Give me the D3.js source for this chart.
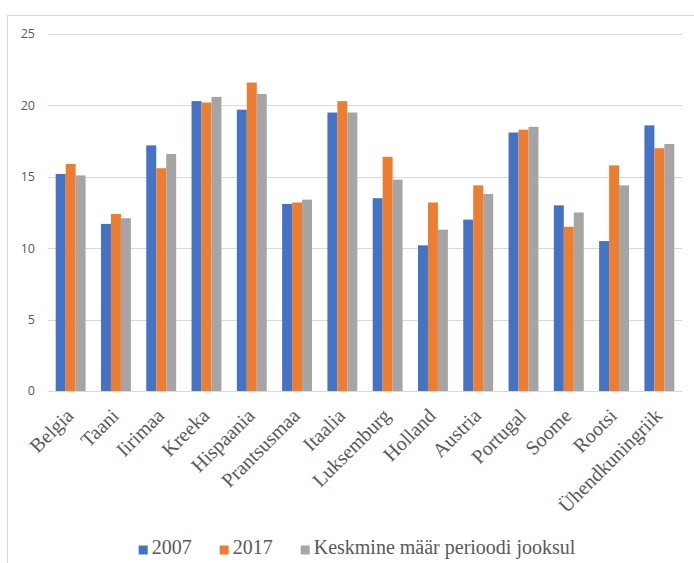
<!DOCTYPE html>
<html>
<head>
<meta charset="utf-8">
<script src="https://cdn.jsdelivr.net/npm/d3@7"></script>
<style>
  body { margin: 0; background: #fff; }
  svg { display: block; }
</style>
</head>
<body>
<div id="chart"></div>
<script>
const WIDTH_PX = 694;
const HEIGHT_PX = 563;

const countries = ['Belgia', 'Taani', 'Iirimaa', 'Kreeka', 'Hispaania', 'Prantsusmaa',
  'Itaalia', 'Luksemburg', 'Holland', 'Austria', 'Portugal', 'Soome', 'Rootsi',
  'Ühendkuningriik'];
const seriesNames = ['2007', '2017', 'Keskmine määr perioodi jooksul'];
const values2007 = [15.2, 11.7, 17.2, 20.3, 19.7, 13.1, 19.5, 13.5, 10.2, 12.0, 18.1, 13.0, 10.5, 18.6];
const values2017 = [15.9, 12.4, 15.6, 20.2, 21.6, 13.2, 20.3, 16.4, 13.2, 14.4, 18.3, 11.5, 15.8, 17.0];
const valuesAvg = [15.1, 12.1, 16.6, 20.6, 20.8, 13.4, 19.5, 14.8, 11.3, 13.8, 18.5, 12.5, 14.4, 17.3];
const yTicks = [0, 5, 10, 15, 20, 25];

const colors = ['#4472C4', '#ED7D31', '#A5A5A5'];
const allSeries = [values2007, values2017, valuesAvg];

let svg = d3.select('#chart').append('svg')
    .attr('width', WIDTH_PX)
    .attr('height', HEIGHT_PX);

// chart frame, runs off the right and bottom edges like the original
svg.append('rect')
    .attr('x', 7.5).attr('y', 15.5)
    .attr('width', 720).attr('height', 600)
    .attr('fill', 'none')
    .attr('stroke', '#d9d9d9');

let x0 = d3.scaleBand()
    .domain(countries)
    .range([48, 682])
    .paddingInner(0.34)
    .paddingOuter(0.17);

let x1 = d3.scaleBand()
    .domain(seriesNames)
    .range([0, x0.bandwidth()]);

let y = d3.scaleLinear()
    .domain([0, 25])
    .range([391, 34]);

// gridlines
svg.append('g')
    .selectAll('line')
    .data(yTicks)
    .join('line')
    .attr('x1', 48).attr('x2', 682)
    .attr('y1', d => Math.round(y(d)) + 0.5)
    .attr('y2', d => Math.round(y(d)) + 0.5)
    .attr('stroke', '#d9d9d9')
    .attr('stroke-width', 1);

// y labels
svg.append('g')
    .selectAll('text')
    .data(yTicks)
    .join('text')
    .attr('x', 35)
    .attr('y', d => y(d))
    .attr('dy', '0.35em')
    .attr('text-anchor', 'end')
    .attr('font-family', 'Open Sans, sans-serif')
    .attr('font-size', 12.5)
    .attr('fill', '#595959')
    .text(d => d);

// bars
for (let s = 0; s < allSeries.length; s++) {
  svg.append('g')
      .attr('fill', colors[s])
      .selectAll('rect')
      .data(allSeries[s])
      .join('rect')
      .attr('x', (d, i) => x0(countries[i]) + x1(seriesNames[s]))
      .attr('y', d => y(d))
      .attr('width', x1.bandwidth())
      .attr('height', d => y(0) - y(d));
}

// x labels
svg.append('g')
    .selectAll('text')
    .data(countries)
    .join('text')
    .attr('transform', d => 'translate(' + (x0(d) + x0.bandwidth() / 2 + 4) + ',' + 417 + ') rotate(-45)')
    .attr('text-anchor', 'end')
    .attr('font-family', 'Liberation Serif, Times New Roman, serif')
    .attr('font-size', 20)
    .attr('fill', '#595959')
    .text(d => d);

// legend
let legend = svg.append('g');
let items = legend.selectAll('g')
    .data(seriesNames)
    .join('g');
items.append('rect')
    .attr('width', 9).attr('height', 9)
    .attr('y', 545.5)
    .attr('fill', (d, i) => colors[i]);
items.append('text')
    .attr('x', 13)
    .attr('y', 554)
    .attr('font-family', 'Liberation Serif, Times New Roman, serif')
    .attr('font-size', 20)
    .attr('fill', '#595959')
    .text(d => d);

let offsets = [];
let total = 0;
items.each(function(d, i) {
  let w = 13 + d3.select(this).select('text').node().getComputedTextLength();
  offsets.push(total);
  total += w + (i < seriesNames.length - 1 ? 28 : 0);
});
let startX = 357 - total / 2;
items.attr('transform', (d, i) => 'translate(' + (startX + offsets[i]) + ',0)');
</script>
</body>
</html>
